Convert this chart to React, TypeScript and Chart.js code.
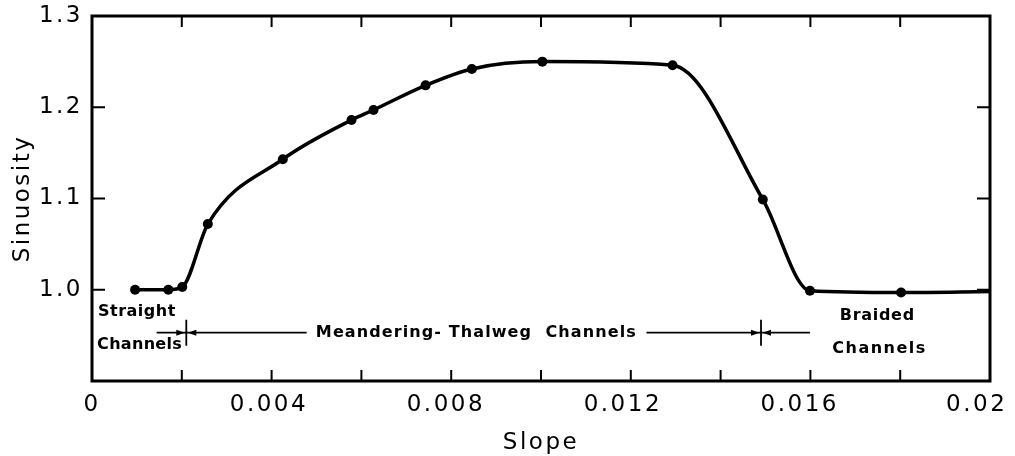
import React, { useEffect, useRef } from 'react';
import { Chart, registerables } from 'chart.js';

Chart.register(...registerables);

// ---- data ----
const slope = [0.00096, 0.0017, 0.00201, 0.00258, 0.00425, 0.00578, 0.00627, 0.00743, 0.00846, 0.01003, 0.01293, 0.01494, 0.01599, 0.01802, 0.02];
const sinuosity = [1.0, 1.0, 1.003, 1.072, 1.143, 1.186, 1.197, 1.224, 1.242, 1.25, 1.246, 1.099, 0.999, 0.997, 0.998];
const hasMarker = [true, true, true, true, true, true, true, true, true, true, true, true, true, true, false];

const xLabelValues = [0, 0.004, 0.008, 0.012, 0.016, 0.02];
const xLabelText = ['0', '0.004', '0.008', '0.012', '0.016', '0.02'];
const xTickMarks = [0.002, 0.004, 0.006, 0.008, 0.01, 0.012, 0.014, 0.016, 0.018];
const yLabelValues = [1.0, 1.1, 1.2, 1.3];
const yLabelText = ['1.0', '1.1', '1.2', '1.3'];
const yTickMarks = [1.0, 1.1, 1.2];

// channel-type annotation (slope boundaries between channel types)
const channelBoundaries = [0.0021, 0.0149];
const rangeLines = [[0.00144, 0.00478], [0.01235, 0.01599]];
const rangeLevel = 0.953;
const regionLabels = ['Straight', 'Channels', 'Meandering- Thalweg  Channels', 'Braided', 'Channels'];
const regionLabelX = [0.001, 0.00106, 0.00856, 0.01749, 0.01754];
const regionLabelY = [0.9756, 0.9395, 0.953, 0.9712, 0.935];
const regionLabelSpacing = [0.5, 0.3, 1.1, 0.7, 1.5];

const FONT = '"DejaVu Sans", sans-serif';

const framePlugin = {
  id: 'frame',
  beforeDraw(chart: any) {
    (chart.ctx as any).letterSpacing = '2.5px';
  },
  afterDatasetsDraw(chart: any) {
    const { ctx, chartArea } = chart;
    const xs = chart.scales.x;
    const ys = chart.scales.y;
    const { left, right, top, bottom } = chartArea;
    ctx.save();
    ctx.strokeStyle = '#000';
    ctx.fillStyle = '#000';
    ctx.lineWidth = 3;
    ctx.lineCap = 'butt';
    ctx.strokeRect(left, top, right - left, bottom - top);

    ctx.lineWidth = 2;
    const tl = 11;
    ctx.beginPath();
    xTickMarks.forEach((v) => {
      const px = xs.getPixelForValue(v);
      ctx.moveTo(px, bottom);
      ctx.lineTo(px, bottom - tl);
      ctx.moveTo(px, top);
      ctx.lineTo(px, top + tl);
    });
    yTickMarks.forEach((v) => {
      const py = ys.getPixelForValue(v);
      ctx.moveTo(left, py);
      ctx.lineTo(left + 13, py);
      ctx.moveTo(right, py);
      ctx.lineTo(right - 13, py);
    });
    ctx.stroke();

    // range lines
    const ly = ys.getPixelForValue(rangeLevel);
    ctx.lineWidth = 1.8;
    ctx.beginPath();
    rangeLines.forEach(([a, b]) => {
      ctx.moveTo(xs.getPixelForValue(a), ly);
      ctx.lineTo(xs.getPixelForValue(b), ly);
    });
    channelBoundaries.forEach((v) => {
      const px = xs.getPixelForValue(v);
      ctx.moveTo(px, ly - 13);
      ctx.lineTo(px, ly + 13);
    });
    ctx.stroke();
    channelBoundaries.forEach((v) => {
      const px = xs.getPixelForValue(v);
      [-1, 1].forEach((side) => {
        ctx.beginPath();
        ctx.moveTo(px + side * 1.5, ly);
        ctx.lineTo(px + side * 10, ly - 3);
        ctx.lineTo(px + side * 10, ly + 3);
        ctx.closePath();
        ctx.fill();
      });
    });

    // labels
    ctx.textAlign = 'center';
    ctx.textBaseline = 'middle';
    ctx.font = `bold 16px ${FONT}`;
    regionLabels.forEach((t, i) => {
      (ctx as any).letterSpacing = `${regionLabelSpacing[i]}px`;
      ctx.fillText(t, xs.getPixelForValue(regionLabelX[i]), ys.getPixelForValue(regionLabelY[i]));
    });
    ctx.restore();
  },
  afterDraw(chart: any) {
    (chart.ctx as any).letterSpacing = '0px';
  },
};

export default function App() {
  const ref = useRef<HTMLCanvasElement>(null);
  useEffect(() => {
    if (!ref.current) return;
    const chart = new Chart(ref.current, {
      type: 'line',
      data: {
        datasets: [
          {
            data: slope.map((x, i) => ({ x, y: sinuosity[i] })),
            xAxisID: 'x',
            yAxisID: 'y',
            borderColor: '#000',
            borderWidth: 3.5,
            backgroundColor: '#000',
            pointBackgroundColor: '#000',
            pointBorderWidth: 0,
            pointRadius: (c: any) => (hasMarker[c.dataIndex] ? 5 : 0),
            cubicInterpolationMode: 'monotone',
            fill: false,
          },
        ],
      },
      options: {
        animation: false,
        responsive: true,
        maintainAspectRatio: false,
        layout: { padding: { left: 0, right: 25, top: 16, bottom: 0 } },
        plugins: { legend: { display: false }, tooltip: { enabled: false } },
        scales: {
          x: { type: 'linear', min: 0, max: 0.02, display: false },
          xl: {
            type: 'linear',
            position: 'bottom',
            min: 0,
            max: 0.0203,
            afterBuildTicks: (s: any) => {
              s.ticks = xLabelValues.map((value) => ({ value }));
            },
            afterFit: (s: any) => {
              s.height = 75;
              s.paddingLeft = 0;
              s.paddingRight = 0;
            },
            grid: { display: false, drawTicks: false },
            border: { display: false },
            ticks: {
              autoSkip: false,
              maxRotation: 0,
              padding: 10,
              color: '#000',
              font: { family: FONT, size: 23 },
              callback: (_v: any, i: number) => xLabelText[i],
            },
            title: {
              display: true,
              text: 'Slope',
              color: '#000',
              font: { family: FONT, size: 23 },
              padding: { top: 0, bottom: -1 },
            },
          },
          y: {
            type: 'linear',
            min: 0.9,
            max: 1.3,
            afterBuildTicks: (s: any) => {
              s.ticks = yLabelValues.map((value) => ({ value }));
            },
            afterFit: (s: any) => {
              s.width = 92;
              s.paddingTop = 0;
              s.paddingBottom = 0;
            },
            grid: { display: false, drawTicks: false },
            border: { display: false },
            ticks: {
              padding: 9,
              color: '#000',
              font: { family: FONT, size: 23 },
              callback: (_v: any, i: number) => yLabelText[i],
            },
            title: {
              display: true,
              text: 'Sinuosity',
              color: '#000',
              font: { family: FONT, size: 23 },
              padding: { top: 9, bottom: 0 },
            },
          },
        },
      } as any,
      plugins: [framePlugin],
    });
    return () => chart.destroy();
  }, []);
  return (
    <div style={{ position: 'fixed', left: 0, top: 0, width: 1015, height: 456, background: '#fff' }}>
      <canvas ref={ref} />
    </div>
  );
}
